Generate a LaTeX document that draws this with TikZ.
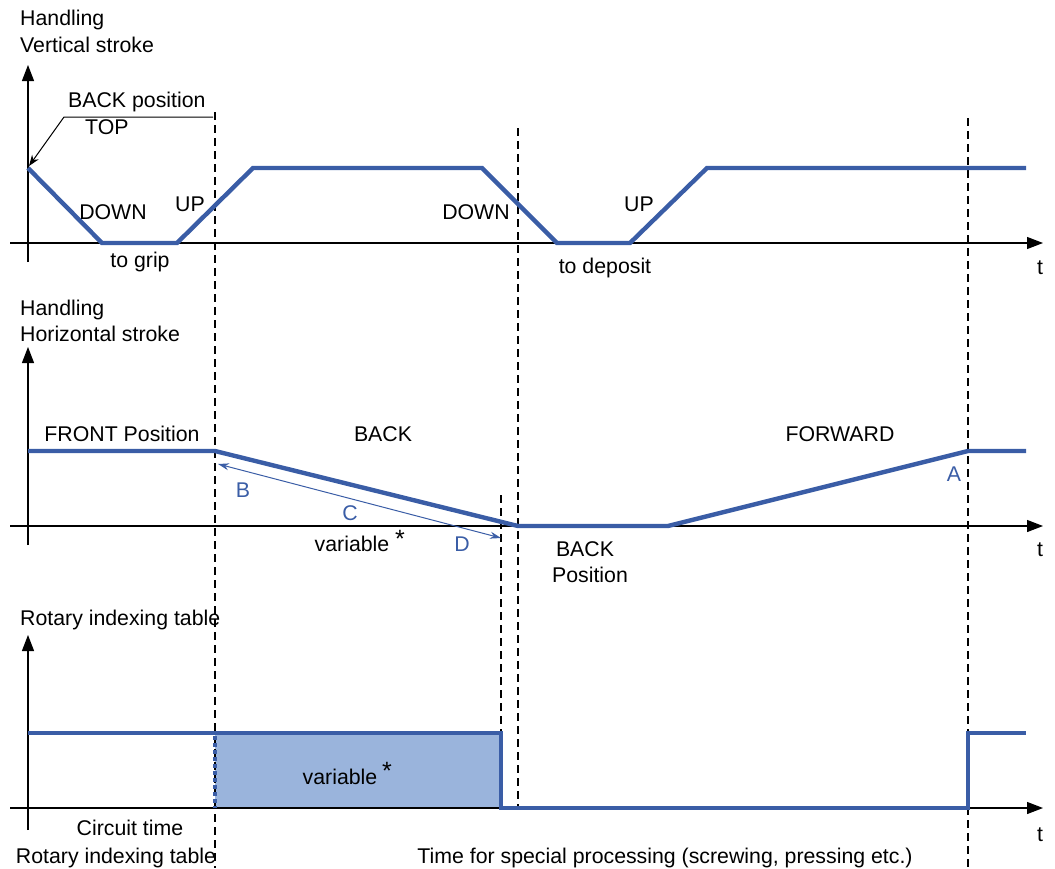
\documentclass[tikz,border=0pt]{standalone}
\usepackage{fontspec}
\setmainfont{Liberation Sans}
\usetikzlibrary{arrows.meta}
\definecolor{sig}{HTML}{3A5DA6}
\definecolor{sigfill}{HTML}{9AB4DC}
\begin{document}
\begin{tikzpicture}[x=1pt,y=-1pt,
  lbl/.style={inner sep=0pt,font=\fontsize{21.3}{25}\selectfont},
  lbll/.style={lbl,anchor=west},
  bl/.style={lbl,text=sig},
  star/.style={inner sep=0pt,font=\fontsize{25}{25}\selectfont},
  axis/.style={line width=1.2pt,-{Triangle[length=16pt,width=12pt]}},
  signal/.style={sig,line width=4.4pt,line join=miter},
  guide/.style={line width=1.1pt,dash pattern=on 8pt off 5pt},
]
\useasboundingbox (0,0) rectangle (1055,868);

% ---------- coordinates ----------
\coordinate (y1b) at (28,262); \coordinate (y1t) at (28,65);
\coordinate (x1l) at (10,243); \coordinate (x1r) at (1043,243);
\coordinate (y2b) at (28,545); \coordinate (y2t) at (28,347);
\coordinate (x2l) at (10,526); \coordinate (x2r) at (1043,526);
\coordinate (y3b) at (28,830); \coordinate (y3t) at (28,635);
\coordinate (x3l) at (10,808); \coordinate (x3r) at (1043,808);

\coordinate (g1t) at (215,112); \coordinate (g1b) at (215,868);
\coordinate (g2t) at (518,128); \coordinate (g2b) at (518,808);
\coordinate (g3t) at (501,495); \coordinate (g3b) at (501,733);
\coordinate (g4t) at (968,118); \coordinate (g4b) at (968,868);

% ---------- panel 3 fill ----------
\fill[sigfill] (215,733) rectangle (501,808);

% ---------- axes ----------
\draw[axis] (y1b) -- (y1t);
\draw[axis] (x1l) -- (x1r);
\draw[axis] (y2b) -- (y2t);
\draw[axis] (x2l) -- (x2r);
\draw[axis] (y3b) -- (y3t);
\draw[axis] (x3l) -- (x3r);

% ---------- guides ----------
\draw[guide] (g1t) -- (g1b);
\draw[guide] (g2t) -- (g2b);
\draw[guide] (g3t) -- (g3b);
\draw[guide] (g4t) -- (g4b);

% ---------- signals ----------
\draw[signal] (28,168) -- (102,243) -- (177,243) -- (253,168) -- (482,168)
  -- (557,243) -- (630,243) -- (707,168) -- (1026,168);
\draw[signal] (28,451) -- (215,451) -- (518,526) -- (668,526) -- (968,451) -- (1026,451);
\draw[signal] (28,733) -- (501,733) -- (501,808) -- (968,808) -- (968,733) -- (1026,733);
\draw[sig,line width=4.4pt,dash pattern=on 4pt off 3pt] (215,736) -- (215,808);

% ---------- annotation arrow ----------
\coordinate (annA) at (213,117);
\coordinate (annB) at (64,117);
\coordinate (annC) at (29,166);
\draw[line width=1pt,-{Stealth[length=11pt,width=8pt]}] (annA) -- (annB) -- (annC);

% ---------- measuring arrow ----------
\coordinate (mA) at (501,538);
\coordinate (mB) at (218,464);
\draw[sig,line width=1pt,{Stealth[length=11pt,width=7pt]}-{Stealth[length=11pt,width=7pt]}] (mB) -- (mA);

% ---------- labels panel 1 ----------
\node[lbll] (h1) at (20,20) {Handling};
\node[lbll] (h1b) at (20,45) {Vertical stroke};
\node[lbll] (bp) at (68,102) {BACK position};
\node[lbll] (top) at (85,127) {TOP};
\node[lbl] (d1) at (113,212) {DOWN};
\node[lbl] (u1) at (190,204) {UP};
\node[lbl] (tg) at (140,262) {to grip};
\node[lbl] (d2) at (476,212) {DOWN};
\node[lbl] (u2) at (639,204) {UP};
\node[lbl] (td) at (605,268) {to deposit};
\node[lbl] (t1) at (1040,268) {t};

% ---------- labels panel 2 ----------
\node[lbll] (h2) at (20,310) {Handling};
\node[lbll] (h2b) at (20,334) {Horizontal stroke};
\node[lbl] (fp) at (122,434) {FRONT Position};
\node[lbl] (bk) at (383,434) {BACK};
\node[lbl] (fw) at (840,434) {FORWARD};
\node[bl] (B) at (243,490) {B};
\node[bl] (C) at (350,513) {C};
\node[bl] (D) at (462,544) {D};
\node[bl] (A) at (954,474) {A};
\node[lbl] (v1) at (352,544) {variable};
\node[star] (s1) at (400,539) {*};
\node[lbl] (bk2) at (585,549) {BACK};
\node[lbl] (pos2) at (590,575) {Position};
\node[lbl] (t2) at (1040,550) {t};

% ---------- labels panel 3 ----------
\node[lbll] (h3) at (20,620) {Rotary indexing table};
\node[lbl] (v2) at (340,777) {variable};
\node[star] (s2) at (387,771) {*};
\node[lbl] (ct) at (130,828) {Circuit time};
\node[lbl] (rit) at (116,858) {Rotary indexing table};
\node[lbl] (tsp) at (665,858) {Time for special processing (screwing, pressing etc.)};
\node[lbl] (t3) at (1040,835) {t};
\end{tikzpicture}
\end{document}
